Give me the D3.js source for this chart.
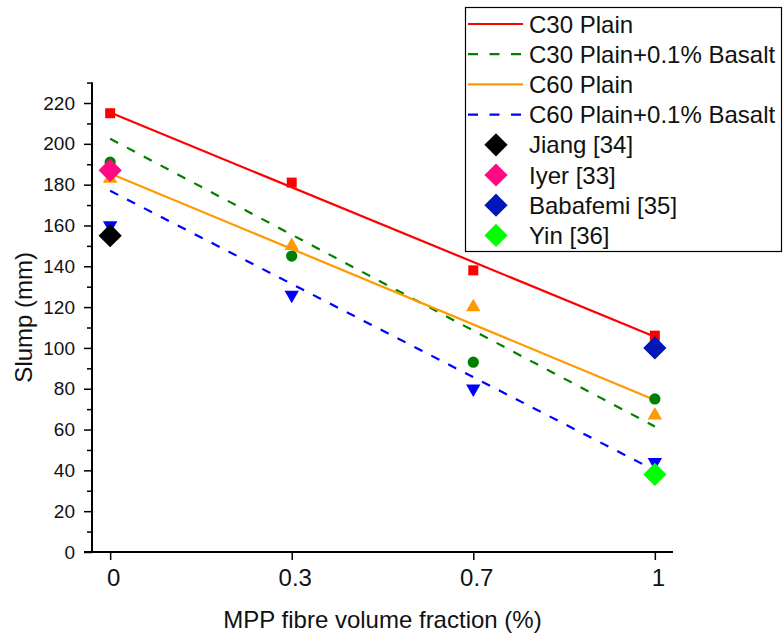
<!DOCTYPE html>
<html>
<head>
<meta charset="utf-8">
<script src="https://cdn.jsdelivr.net/npm/d3@7"></script>
<style>
    body { margin: 0; background: #fff; }
    svg { font-family: "Liberation Sans", Arial, sans-serif; }
</style>
</head>
<body>
<svg id="chart" width="783" height="642"></svg>
<script>
/* slump vs MPP fibre fraction */
var categories = ["0", "0.3", "0.7", "1"];
var yTicks = [0, 20, 40, 60, 80, 100, 120, 140, 160, 180, 200, 220];

var c30Plain = [215, 181, 138, 106];
var c30Basalt = [191, 145, 93, 75];
var c60Plain = [183, 150, 120, 67];
var c60Basalt = [160, 126, 80, 44];

// fitted lines, value at first and last category
var fitC30Plain = [215.3, 105.5];
var fitC30Basalt = [202.5, 61.5];
var fitC60Plain = [185.5, 74.5];
var fitC60Basalt = [177, 40];

var litNames = ["Jiang [34]", "Iyer [33]", "Babafemi [35]", "Yin [36]"];
var litCategory = ["0", "0", "1", "1"];
var litValues = [155, 187, 100, 38];
var litColors = ["#000000", "#ff0a85", "#0018b8", "#00ff00"];

var svg = d3.select("#chart");
var plotLeft = 92, plotRight = 673, plotTop = 82.6, plotBottom = 552;

var xIdx = d3.scaleLinear().domain([-0.1, 3.1]).range([plotLeft, plotRight]);
var x = function(c) { return xIdx(categories.indexOf(c)); };
var y = d3.scaleLinear().domain([0, 230]).range([plotBottom, plotTop]);

/* axes */
var yAxis = svg.append("g").attr("transform", "translate(" + plotLeft + ",0)");
yAxis.call(d3.axisLeft(y).tickValues(d3.range(10, 231, 20)).tickSize(5).tickFormat(""));
yAxis.append("g").call(d3.axisLeft(y).tickValues(yTicks).tickSize(8).tickPadding(9));
yAxis.selectAll("path.domain").attr("d", "M0," + plotTop + "V" + plotBottom);
yAxis.selectAll("line").attr("stroke", "#000").attr("stroke-width", 1.5);
yAxis.selectAll("path").attr("stroke", "#000").attr("stroke-width", 1.8);
yAxis.selectAll("text").attr("font-size", 19).attr("font-family", null).attr("fill", "#111");

var xAxis = svg.append("g").attr("transform", "translate(0," + plotBottom + ")");
xAxis.call(d3.axisBottom(xIdx).tickValues([0, 1, 2, 3]).tickSize(8).tickPadding(9)
    .tickFormat(function(i) { return categories[i]; }));
xAxis.selectAll("path.domain").attr("d", "M" + (plotLeft - 8) + ",0H" + plotRight);
xAxis.selectAll("line").attr("stroke", "#000").attr("stroke-width", 1.5);
xAxis.selectAll("path").attr("stroke", "#000").attr("stroke-width", 1.8);
xAxis.selectAll("text").attr("font-size", 24).attr("font-family", null).attr("fill", "#111")
    .attr("dx", 3);

svg.append("text")
    .attr("transform", "translate(32," + (plotTop + plotBottom) / 2 + ") rotate(-90)")
    .attr("text-anchor", "middle")
    .attr("font-size", 24)
    .attr("fill", "#111")
    .text("Slump (mm)");

svg.append("text")
    .attr("x", (plotLeft + plotRight) / 2)
    .attr("y", 628)
    .attr("text-anchor", "middle")
    .attr("font-size", 24)
    .attr("fill", "#111")
    .text("MPP fibre volume fraction (%)");

/* fitted lines */
var lines = [
    { vals: fitC30Plain, color: "#ff0000", dash: null },
    { vals: fitC30Basalt, color: "#008000", dash: "9,10" },
    { vals: fitC60Plain, color: "#ff9900", dash: null },
    { vals: fitC60Basalt, color: "#0000ff", dash: "9,10" }
];
lines.forEach(function(l) {
    svg.append("line")
        .attr("x1", x(categories[0]))
        .attr("y1", y(l.vals[0]))
        .attr("x2", x(categories[categories.length - 1]))
        .attr("y2", y(l.vals[1]))
        .attr("stroke", l.color)
        .attr("stroke-width", 2.2)
        .attr("stroke-dasharray", l.dash);
});

/* measured points */
var pointSets = [
    { vals: c30Plain, color: "#ff0000", shape: d3.symbolSquare, size: 100, rot: 0 },
    { vals: c30Basalt, color: "#008000", shape: d3.symbolCircle, size: 100, rot: 0 },
    { vals: c60Plain, color: "#ff9900", shape: d3.symbolTriangle, size: 90, rot: 0 },
    { vals: c60Basalt, color: "#0000ff", shape: d3.symbolTriangle, size: 90, rot: 180 }
];
pointSets.forEach(function(p) {
    svg.append("g").selectAll("path")
        .data(p.vals)
        .enter()
        .append("path")
        .attr("d", d3.symbol().type(p.shape).size(p.size))
        .attr("transform", function(d, i) {
            return "translate(" + x(categories[i]) + "," + y(d) + ") rotate(" + p.rot + ")";
        })
        .attr("fill", p.color);
});

/* literature points */
var diamond = d3.symbol().type(d3.symbolSquare).size(270);
svg.append("g").selectAll("path")
    .data(litValues)
    .enter()
    .append("path")
    .attr("d", diamond)
    .attr("transform", function(d, i) {
        return "translate(" + x(litCategory[i]) + "," + y(d) + ") rotate(45)";
    })
    .attr("fill", function(d, i) { return litColors[i]; });

/* legend */
var legend = svg.append("g");
legend.append("rect")
    .attr("x", 465.5).attr("y", 7.5)
    .attr("width", 316).attr("height", 244)
    .attr("fill", "#fff").attr("stroke", "#000").attr("stroke-width", 1.2);

var legendNames = ["C30 Plain", "C30 Plain+0.1% Basalt", "C60 Plain", "C60 Plain+0.1% Basalt"];
var rowY = function(i) { return 24 + i * 30.2; };

lines.forEach(function(l, i) {
    legend.append("line")
        .attr("x1", 468).attr("x2", 523)
        .attr("y1", rowY(i)).attr("y2", rowY(i))
        .attr("stroke", l.color).attr("stroke-width", 2.2)
        .attr("stroke-dasharray", l.dash ? "10,11.5" : null);
    legend.append("text")
        .attr("x", 529).attr("y", rowY(i))
        .attr("dy", "0.36em")
        .attr("font-size", 24)
        .attr("fill", "#111")
        .text(legendNames[i]);
});
litNames.forEach(function(n, i) {
    var k = i + 4;
    legend.append("path")
        .attr("d", diamond)
        .attr("transform", "translate(496," + rowY(k) + ") rotate(45)")
        .attr("fill", litColors[i]);
    legend.append("text")
        .attr("x", 529).attr("y", rowY(k))
        .attr("dy", "0.36em")
        .attr("font-size", 24)
        .attr("fill", "#111")
        .text(n);
});
</script>
</body>
</html>
